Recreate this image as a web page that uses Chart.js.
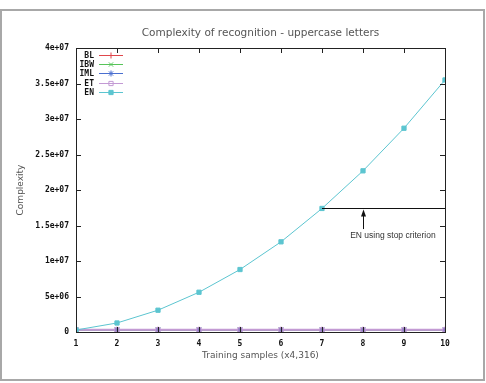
<!DOCTYPE html>
<html lang="en">
<head>
  <meta charset="UTF-8">
  <title>Complexity of recognition</title>
  <script src="https://cdn.jsdelivr.net/npm/chart.js"></script>
  <style>
    body {
      margin: 0;
      background: #fff;
    }

    /* grey frame round the whole figure */
    .frame {
      position: absolute;
      left: 0;
      top: 9px;
      width: 481px;
      height: 368px;
      border: 2px solid #a8a8a8;
    }

    .wrap {
      position: absolute;
      left: 0;
      top: 0;
      width: 486px;
      height: 383px;
    }
  </style>
</head>
<body>

  <div class="frame"></div>
  <div class="wrap"><canvas id="cx"></canvas></div>

  <script>
    // training samples (x4,316)
    const samples = [1, 2, 3, 4, 5, 6, 7, 8, 9, 10];

    // complexity per method
    const BL  = [3.0e5, 3.0e5, 3.0e5, 3.0e5, 3.0e5, 3.0e5, 3.0e5, 3.0e5, 3.0e5, 3.0e5];
    const IBW = [3.0e5, 3.0e5, 3.0e5, 3.0e5, 3.0e5, 3.0e5, 3.0e5, 3.0e5, 3.0e5, 3.0e5];
    const IML = [3.0e5, 3.0e5, 3.0e5, 3.0e5, 3.0e5, 3.0e5, 3.0e5, 3.0e5, 3.0e5, 3.0e5];
    const ET  = [3.1e5, 3.1e5, 3.1e5, 3.1e5, 3.1e5, 3.1e5, 3.1e5, 3.1e5, 3.1e5, 3.1e5];
    const EN  = [0.28e6, 1.27e6, 3.07e6, 5.6e6, 8.8e6, 12.7e6, 17.4e6, 22.7e6, 28.7e6, 35.5e6];

    const yTickLabels = ['0', '5e+06', '1e+07', '1.5e+07', '2e+07', '2.5e+07', '3e+07', '3.5e+07', '4e+07'];

    const titleText = 'Complexity of recognition - uppercase letters';

    // annotation: EN stop point is at sample 7, arrow sits at sample 8
    const stopIndex = 6;
    const arrowAt = 8;
    const noteText = 'EN using stop criterion';

    const tickFont = { family: 'DejaVu Sans Mono', size: 8, weight: 'bold' };

    function series(label, vals, color, style, fill, keyFill, width, order) {
      return {
        label: label,
        data: samples.map((s, i) => ({ x: s, y: vals[i] })),
        borderColor: color,
        backgroundColor: fill,
        pointBorderColor: color,
        pointBackgroundColor: fill,
        keyFill: keyFill,
        pointStyle: style,
        pointRadius: 3,
        pointBorderWidth: 1,
        borderWidth: width,
        tension: 0,
        order: order
      };
    }

    // title centred over the plot box
    const topTitle = {
      id: 'topTitle',
      afterDraw(chart) {
        const { ctx, chartArea: a } = chart;
        ctx.save();
        ctx.font = '10.5px "DejaVu Sans"';
        ctx.fillStyle = '#555';
        ctx.textAlign = 'center';
        ctx.textBaseline = 'middle';
        ctx.fillText(titleText, (a.left + a.right) / 2, a.top - 15);
        ctx.restore();
      }
    };

    // inward ticks on all four sides + plot box
    const frameTicks = {
      id: 'frameTicks',
      afterDraw(chart) {
        const { ctx, chartArea: a, scales } = chart;
        ctx.save();
        ctx.strokeStyle = '#222';
        ctx.lineWidth = 1;
        ctx.beginPath();
        scales.y.ticks.forEach(t => {
          const py = Math.round(scales.y.getPixelForValue(t.value)) + 0.5;
          ctx.moveTo(a.left, py); ctx.lineTo(a.left + 5, py);
          ctx.moveTo(a.right, py); ctx.lineTo(a.right - 5, py);
        });
        scales.x.ticks.forEach(t => {
          const px = Math.round(scales.x.getPixelForValue(t.value)) + 0.5;
          ctx.moveTo(px, a.top); ctx.lineTo(px, a.top + 5);
          ctx.moveTo(px, a.bottom); ctx.lineTo(px, a.bottom - 5);
        });
        ctx.stroke();
        ctx.strokeRect(Math.round(a.left) + 0.5, Math.round(a.top) + 0.5,
          Math.round(a.right - a.left), Math.round(a.bottom - a.top));
        ctx.restore();
      }
    };

    // gnuplot style key in the top left corner
    const key = {
      id: 'key',
      afterDraw(chart) {
        const { ctx, chartArea: a } = chart;
        ctx.save();
        ctx.font = 'bold 8px "DejaVu Sans Mono"';
        ctx.textAlign = 'right';
        ctx.textBaseline = 'middle';
        chart.data.datasets.forEach((ds, i) => {
          const y = Math.round(a.top + 6.5 + i * 9.4) + 0.5;
          ctx.fillStyle = '#111';
          ctx.fillText(ds.label, a.left + 18, y);
          ctx.strokeStyle = ds.borderColor;
          ctx.lineWidth = 1;
          ctx.beginPath();
          ctx.moveTo(a.left + 23, y);
          ctx.lineTo(a.left + 47, y);
          ctx.stroke();
          if (Chart.helpers && Chart.helpers.drawPoint) {
            ctx.fillStyle = ds.keyFill;
            Chart.helpers.drawPoint(ctx, {
              pointStyle: ds.pointStyle, radius: 3, borderWidth: 1, rotation: 0
            }, a.left + 35, y);
          }
        });
        ctx.restore();
      }
    };

    // the stop criterion line, arrow and note
    const note = {
      id: 'note',
      afterDatasetsDraw(chart) {
        const { ctx, scales: { x, y } } = chart;
        const yv = y.getPixelForValue(EN[stopIndex]);
        ctx.save();
        ctx.strokeStyle = '#111';
        ctx.fillStyle = '#111';
        ctx.lineWidth = 1;
        ctx.beginPath();
        ctx.moveTo(x.getPixelForValue(samples[stopIndex]), Math.round(yv) + 0.5);
        ctx.lineTo(x.getPixelForValue(samples[samples.length - 1]), Math.round(yv) + 0.5);
        ctx.stroke();
        const ax = Math.round(x.getPixelForValue(arrowAt)) + 0.5;
        const tail = y.getPixelForValue(14.5e6);
        ctx.beginPath();
        ctx.moveTo(ax, tail);
        ctx.lineTo(ax, yv + 4);
        ctx.stroke();
        ctx.beginPath();
        ctx.moveTo(ax, yv + 1);
        ctx.lineTo(ax - 2.5, yv + 8);
        ctx.lineTo(ax + 2.5, yv + 8);
        ctx.closePath();
        ctx.fill();
        ctx.font = '8.5px "Liberation Sans"';
        ctx.textAlign = 'center';
        ctx.textBaseline = 'middle';
        ctx.fillStyle = '#333';
        ctx.fillText(noteText, x.getPixelForValue(8.73), y.getPixelForValue(13.5e6));
        ctx.restore();
      }
    };

    new Chart(document.getElementById('cx'), {
      type: 'line',
      data: {
        datasets: [
          series('BL', BL, '#e0474c', 'cross', '#e0474c', '#e0474c', 1, 5),
          series('IBW', IBW, '#57c45a', 'crossRot', '#57c45a', '#57c45a', 1, 4),
          series('IML', IML, '#4a6fd0', 'star', '#4a6fd0', '#4a6fd0', 1, 3),
          series('ET', ET, '#c39ad4', 'rect', '#8a7cc2', 'rgba(255,255,255,0)', 2, 2),
          series('EN', EN, '#5cc5d0', 'rect', '#5cc5d0', '#5cc5d0', 1, 1)
        ]
      },
      options: {
        responsive: true,
        maintainAspectRatio: false,
        animation: false,
        layout: { padding: { left: 0, right: 41, top: 48, bottom: 0 } },
        plugins: {
          legend: { display: false },
          tooltip: { enabled: false },
          title: { display: false }
        },
        scales: {
          x: {
            type: 'linear',
            min: 1,
            max: 10,
            afterFit(s) { s.height = 51; },
            grid: { display: false, drawTicks: false },
            border: { display: false },
            ticks: { stepSize: 1, color: '#111', font: tickFont, padding: 7, maxRotation: 0 },
            title: {
              display: true,
              text: 'Training samples (x4,316)',
              color: '#555',
              font: { family: 'DejaVu Sans', size: 9 },
              padding: { top: 0, bottom: 22 }
            }
          },
          y: {
            min: 0,
            max: 4e7,
            afterFit(s) { s.width = 76; },
            grid: { display: false, drawTicks: false },
            border: { display: false },
            ticks: {
              stepSize: 5e6,
              color: '#111',
              font: tickFont,
              padding: 7,
              callback: (v, i) => yTickLabels[i]
            },
            title: {
              display: true,
              text: 'Complexity',
              color: '#555',
              font: { family: 'DejaVu Sans', size: 9 },
              padding: { top: 15, bottom: 0 }
            }
          }
        }
      },
      plugins: [topTitle, frameTicks, key, note]
    });
  </script>

</body>
</html>
